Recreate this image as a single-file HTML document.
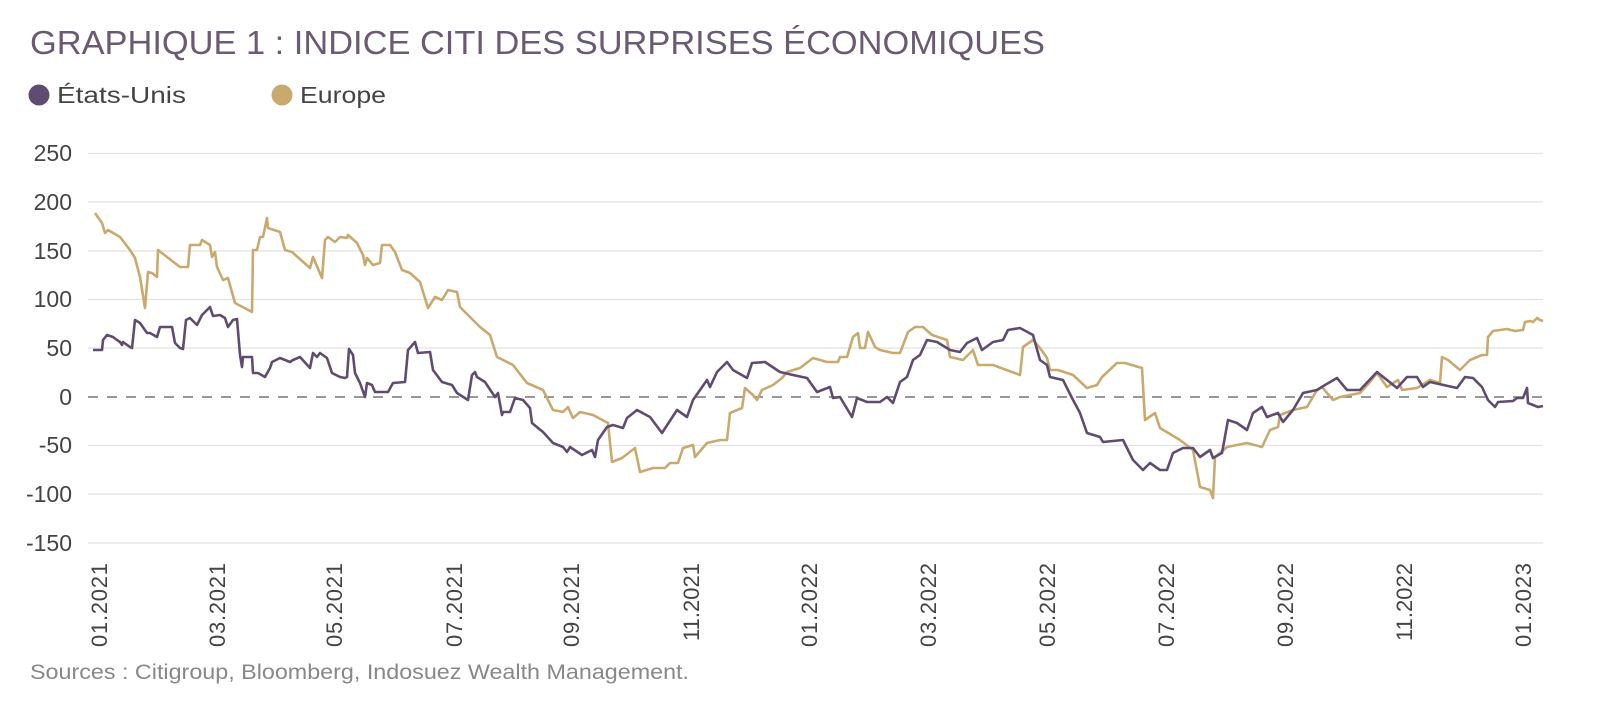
<!DOCTYPE html>
<html><head><meta charset="utf-8"><style>
html,body{margin:0;padding:0;background:#fff;}
svg{display:block;font-family:"Liberation Sans",sans-serif;}
</style></head><body>
<svg width="1600" height="708" viewBox="0 0 1600 708" xmlns="http://www.w3.org/2000/svg">
<text x="30" y="54" font-size="33" fill="#6a5a72" textLength="1015" lengthAdjust="spacingAndGlyphs">GRAPHIQUE 1 : INDICE CITI DES SURPRISES ÉCONOMIQUES</text>
<circle cx="39" cy="95" r="10.5" fill="#5f4c70"/>
<text x="57" y="103" font-size="23" fill="#444" textLength="129" lengthAdjust="spacingAndGlyphs">États-Unis</text>
<circle cx="282" cy="95" r="10.5" fill="#c9a96e"/>
<text x="300" y="103" font-size="23" fill="#444" textLength="86" lengthAdjust="spacingAndGlyphs">Europe</text>
<g stroke="#e2e2e2" stroke-width="1.3">
<line x1="88" x2="1543" y1="153.5" y2="153.5"/>
<line x1="88" x2="1543" y1="202" y2="202"/>
<line x1="88" x2="1543" y1="251" y2="251"/>
<line x1="88" x2="1543" y1="299.5" y2="299.5"/>
<line x1="88" x2="1543" y1="348" y2="348"/>
<line x1="88" x2="1543" y1="445.5" y2="445.5"/>
<line x1="88" x2="1543" y1="494" y2="494"/>
<line x1="88" x2="1543" y1="543" y2="543"/>
</g>
<line x1="88" x2="1543" y1="397" y2="397" stroke="#777" stroke-width="1.6" stroke-dasharray="10,9"/>
<g font-size="23" fill="#444" text-anchor="end">
<text x="72" y="161">250</text><text x="72" y="210">200</text><text x="72" y="259">150</text>
<text x="72" y="307">100</text><text x="72" y="356">50</text><text x="72" y="405">0</text>
<text x="72" y="453">-50</text><text x="72" y="502">-100</text><text x="72" y="551">-150</text>
</g>
<g font-size="22" fill="#444" text-anchor="end">
<text transform="translate(107,563) rotate(-90)" textLength="84">01.2021</text>
<text transform="translate(225,563) rotate(-90)" textLength="84">03.2021</text>
<text transform="translate(342,563) rotate(-90)" textLength="84">05.2021</text>
<text transform="translate(462,563) rotate(-90)" textLength="84">07.2021</text>
<text transform="translate(579,563) rotate(-90)" textLength="84">09.2021</text>
<text transform="translate(699,563) rotate(-90)" textLength="78">11.2021</text>
<text transform="translate(817,563) rotate(-90)" textLength="84">01.2022</text>
<text transform="translate(936,563) rotate(-90)" textLength="84">03.2022</text>
<text transform="translate(1055,563) rotate(-90)" textLength="84">05.2022</text>
<text transform="translate(1174,563) rotate(-90)" textLength="84">07.2022</text>
<text transform="translate(1293,563) rotate(-90)" textLength="84">09.2022</text>
<text transform="translate(1412,563) rotate(-90)" textLength="78">11.2022</text>
<text transform="translate(1531,563) rotate(-90)" textLength="84">01.2023</text>
</g>
<text x="30" y="679" font-size="21" fill="#888" textLength="659" lengthAdjust="spacingAndGlyphs">Sources : Citigroup, Bloomberg, Indosuez Wealth Management.</text>
<polyline fill="none" stroke="#c9a96e" stroke-width="2.6" stroke-linejoin="round" points="95,213 102,223 105,233 108,230 120,237 130,250 135,258 140,277 145,308 148,272 152,273 157,277 158,250 167,257 180,267 188,267 190,245 200,245 202,240 210,245 212,257 215,252 217,267 223,280 228,278 235,303 252,312 253,250 257,250 260,237 263,237 267,218 268,228 280,232 285,250 292,252 310,268 313,257 322,278 325,240 328,237 335,242 340,237 347,238 348,235 357,243 363,255 365,265 367,258 373,265 380,263 382,245 390,245 395,252 402,270 410,273 420,282 428,308 435,297 442,300 448,290 457,292 460,307 480,327 490,335 497,357 513,365 527,383 543,390 553,410 563,412 568,407 573,418 580,412 593,415 608,423 612,462 622,458 635,448 640,472 653,468 665,468 670,463 678,463 683,448 693,445 695,457 707,443 720,440 727,440 730,413 742,408 745,388 753,395 757,400 762,390 773,385 782,378 787,372 800,368 813,358 827,362 838,362 840,357 847,357 853,337 858,333 860,348 865,348 868,332 875,347 880,350 893,353 900,353 908,332 915,327 923,327 932,335 947,340 950,357 963,360 973,350 978,365 993,365 1020,375 1023,347 1033,340 1040,348 1047,358 1050,370 1058,370 1073,375 1087,388 1097,385 1102,377 1117,363 1125,363 1142,368 1145,420 1155,413 1160,428 1180,440 1193,450 1200,487 1210,490 1213,498 1215,457 1227,447 1247,443 1262,447 1270,430 1278,427 1280,415 1293,410 1307,407 1317,390 1322,387 1333,400 1340,397 1360,393 1370,382 1377,373 1387,387 1398,380 1402,390 1417,388 1430,380 1440,383 1442,357 1448,360 1460,370 1470,360 1482,355 1487,355 1488,337 1493,331 1507,329 1515,331 1523,330 1525,322 1530,321 1533,322 1537,318 1540,320 1543,321"/>
<polyline fill="none" stroke="#5f4c70" stroke-width="2.6" stroke-linejoin="round" points="93,350 102,350 103,340 107,335 113,337 117,340 120,342 122,345 123,342 130,347 132,348 135,320 140,323 147,333 150,333 157,337 160,327 172,327 175,343 180,348 183,349 186,320 190,318 197,325 202,315 210,307 213,316 220,315 225,318 228,327 233,320 237,319 240,355 242,367 243,357 252,357 253,373 258,373 265,377 270,368 272,362 280,358 290,362 293,360 300,357 310,368 313,353 317,357 320,353 327,358 332,373 340,377 345,378 347,377 349,349 353,355 355,373 360,383 365,397 367,383 372,385 375,392 388,392 393,383 405,382 408,350 415,342 418,353 430,352 433,370 442,382 452,385 457,393 468,400 472,375 475,372 477,377 485,382 495,397 498,393 502,415 503,412 510,412 515,398 523,400 530,408 532,423 538,428 543,432 553,443 563,447 567,452 570,447 582,455 592,450 595,457 598,440 607,427 613,425 623,428 627,418 637,410 650,417 662,433 677,410 687,417 693,400 707,380 710,387 717,372 727,362 733,370 747,378 752,363 765,362 780,372 793,375 807,378 817,392 830,387 833,398 840,397 852,417 857,398 867,402 880,402 887,397 893,403 900,382 907,377 913,360 920,355 927,340 937,342 950,350 960,352 967,343 977,338 982,350 993,342 1003,340 1008,330 1020,328 1033,335 1040,360 1047,365 1050,377 1063,380 1072,398 1080,413 1087,433 1100,437 1103,442 1123,440 1133,460 1143,470 1150,463 1160,470 1167,470 1173,453 1183,448 1193,448 1200,457 1210,450 1213,458 1222,453 1228,420 1237,423 1247,430 1253,413 1262,407 1267,417 1278,413 1283,422 1293,410 1303,393 1317,390 1325,385 1337,378 1347,390 1360,390 1377,372 1387,380 1397,388 1407,377 1417,377 1423,387 1430,382 1457,388 1465,377 1473,378 1482,387 1488,400 1495,407 1498,402 1513,401 1517,398 1523,398 1527,388 1528,403 1533,405 1538,407 1543,406"/>
</svg>
</body></html>
